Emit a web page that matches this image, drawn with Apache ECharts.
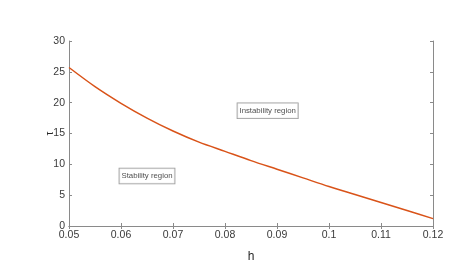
<!DOCTYPE html>
<html><head><meta charset="utf-8">
<script src="https://cdn.jsdelivr.net/npm/echarts@6/dist/echarts.min.js"></script>
<style>html,body{margin:0;padding:0;background:#fff}#c{width:465px;height:275px}</style>
</head><body><div id="c"></div>
<script>
const hValues = [0.05,0.055,0.06,0.065,0.07,0.075,0.08,0.085,0.09,0.095,0.1,0.105,0.11,0.115,0.12];
const tauValues = [25.7,22.6,19.9,17.5,15.4,13.6,12.1,10.6,9.2,7.8,6.4,5.1,3.8,2.5,1.2];
const xTicks = {min:0.05, max:0.12, interval:0.01};
const yTicks = {min:0, max:30, interval:5};
const annotations = [
  {text:'Instability region', h:0.0882, tau:18.7},
  {text:'Stability region', h:0.065, tau:8.1}
];
const axisColor = '#8a8a8a', labelColor = '#3a3a3a';
const font = 'Liberation Sans';
const chart = echarts.init(document.getElementById('c'), null, {renderer:'canvas'});
const baseX = {type:'value', min:xTicks.min, max:xTicks.max, interval:xTicks.interval,
  axisLine:{lineStyle:{color:axisColor, width:1}}, axisTick:{inside:true, length:3, lineStyle:{color:axisColor}},
  splitLine:{show:false}};
const baseY = {type:'value', min:yTicks.min, max:yTicks.max, interval:yTicks.interval,
  axisLine:{show:true, lineStyle:{color:axisColor, width:1}}, axisTick:{show:true, inside:true, length:3, lineStyle:{color:axisColor}},
  splitLine:{show:false}};
chart.setOption({
  animation:false,
  backgroundColor:'#fff',
  grid:{left:69, right:32, top:41, bottom:49},
  xAxis:[
    Object.assign({}, baseX, {position:'bottom', name:'h', nameLocation:'middle', nameGap:25, nameMoveOverlap:false,
      nameTextStyle:{fontFamily:font, fontSize:12, color:'#262626'},
      axisLabel:{fontFamily:font, fontSize:10.5, color:labelColor, margin:4,
        formatter:v=>String(+v.toFixed(2))}}),
    Object.assign({}, baseX, {position:'top', axisLabel:{show:false}})
  ],
  yAxis:[
    Object.assign({}, baseY, {position:'left', name:'τ', nameLocation:'middle', nameGap:14, nameRotate:90, nameMoveOverlap:false,
      nameTextStyle:{fontFamily:font, fontSize:10, color:'#262626'},
      axisLabel:{fontFamily:font, fontSize:10.5, color:labelColor, margin:4}}),
    Object.assign({}, baseY, {position:'right', axisLabel:{show:false}})
  ],
  series:[
    {type:'line', xAxisIndex:0, yAxisIndex:0, data:hValues.map((h,i)=>[h,tauValues[i]]),
     smooth:0.3, showSymbol:false, lineStyle:{color:'#D95319', width:1.5}},
    {type:'scatter', xAxisIndex:0, yAxisIndex:0, symbolSize:0,
     data:annotations.map(a=>({value:[a.h,a.tau], name:a.text})),
     label:{show:true, position:'inside', formatter:p=>p.name, fontFamily:font, fontSize:7.8, color:'#1a1a1a',
       backgroundColor:'#fff', borderColor:'#808080', borderWidth:0.8, padding:[4,2,3,2]}}
  ]
});
</script></body></html>
